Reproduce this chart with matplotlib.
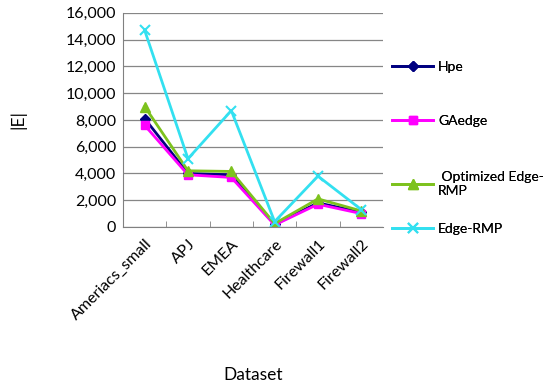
import matplotlib.pyplot as plt
import numpy as np

plt.rcParams['font.family'] = ['Lato', 'DejaVu Sans']

datasets = ['Ameriacs_small', 'APJ', 'EMEA', 'Healthcare', 'Firewall1', 'Firewall2']
hpe = [8100, 4000, 3900, 200, 1800, 1100]
gaedge = [7600, 3900, 3700, 150, 1700, 1000]
optimized = [9000, 4200, 4150, 250, 2100, 1200]
edge_rmp = [14700, 5100, 8700, 400, 3800, 1300]

fig = plt.figure(figsize=(5.5, 3.9), dpi=100)
ax = fig.add_axes([0.2236, 0.418, 0.4727, 0.549])

x = np.arange(len(datasets))
lines = []
lines += ax.plot(x, hpe, color='#000080', marker='D', markersize=5, lw=2, label='Hpe')
lines += ax.plot(x, gaedge, color='#FF00FF', marker='s', markersize=6, lw=2, label='GAedge')
lines += ax.plot(x, optimized, color='#7DC21E', marker='^', markersize=7, lw=2, label=' Optimized Edge-\nRMP')
lines += ax.plot(x, edge_rmp, color='#33E0F0', marker='x', markersize=7, mew=1.5, lw=2, label='Edge-RMP')

ax.set_xlim(-0.5, len(datasets) - 0.5)
ax.set_ylim(0, 16000)
ax.set_yticks(np.arange(0, 16001, 2000))
ax.set_yticklabels([f'{v:,}' for v in range(0, 16001, 2000)], fontsize=11.5)
ax.yaxis.grid(True, color='#868686', lw=0.9)
ax.set_axisbelow(True)

ax.set_xticks(x)
ax.set_xticklabels(datasets, rotation=45, ha='right', rotation_mode='anchor', fontsize=11.5)
ax.set_xticks(np.arange(0.5, len(datasets) - 0.5, 1), minor=True)
ax.tick_params(axis='x', which='major', length=0, pad=7)
ax.tick_params(axis='x', which='minor', direction='in', length=4, color='#808080')
ax.tick_params(axis='y', direction='in', length=0, pad=5)

for side in ['top', 'right']:
    ax.spines[side].set_visible(False)
for side in ['left', 'bottom']:
    ax.spines[side].set_color('#808080')

ax.set_xlabel('Dataset', fontsize=12.5, labelpad=32)
ax.set_ylabel('|E|', fontsize=12.5, labelpad=28)

# one legend per entry, spaced like the original
legend_y = [0.828, 0.690, 0.528, 0.413]
for ln, ly in zip(lines, legend_y):
    leg = fig.legend(handles=[ln], loc='center left', bbox_to_anchor=(0.713, ly),
                     frameon=False, fontsize=10, borderpad=0, borderaxespad=0,
                     handlelength=2.95, handletextpad=0.36)
    fig.add_artist(leg)

fig.savefig('out.png', dpi=100)
